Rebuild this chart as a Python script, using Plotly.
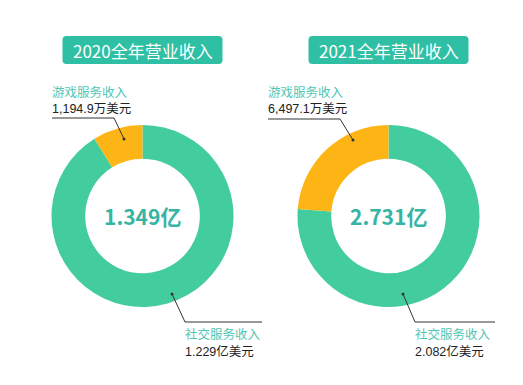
import plotly.graph_objects as go

# page window 523x385; the browser body has an 8px margin
OFF = 8
W, H = 523 - OFF, 385 - OFF

years = ["2020", "2021"]
categories = ["社交服务收入", "游戏服务收入"]
social_values = [1.229, 2.082]          # 亿美元
game_values = [0.11949, 0.64971]        # 亿美元 (1,194.9万 / 6,497.1万)
totals_text = ["1.349亿", "2.731亿"]
game_labels = ["1,194.9万美元", "6,497.1万美元"]
social_labels = ["1.229亿美元", "2.082亿美元"]
titles = ["2020全年营业收入", "2021全年营业收入"]

GREEN = "#43CC9D"
YELLOW = "#FDB516"
TEAL = "#2FBFA5"
CENTER_TXT = "#36B4A4"
LABEL_TXT = "#52C6B2"
FONT = "Noto Sans CJK SC"
LABEL_FONT = "Liberation Sans, Noto Sans CJK SC"


def px(x):
    return (x - OFF) / W


def py(y):
    return 1 - (y - OFF) / H


def rounded_rect(x0, y0, x1, y1, r):
    rx, ry = r / W, r / H
    X0, X1 = px(x0), px(x1)
    Y0, Y1 = py(y0), py(y1)
    return (f"M {X0+rx},{Y0} L {X1-rx},{Y0} Q {X1},{Y0} {X1},{Y0-ry} "
            f"L {X1},{Y1+ry} Q {X1},{Y1} {X1-rx},{Y1} L {X0+rx},{Y1} "
            f"Q {X0},{Y1} {X0},{Y1+ry} L {X0},{Y0-ry} Q {X0},{Y0} {X0+rx},{Y0} Z")


def text(x, y, s, size, color, xanchor="left", family=FONT):
    return dict(x=px(x), y=py(y), xref="paper", yref="paper", xanchor=xanchor,
                yanchor="middle", text=s, showarrow=False,
                font=dict(family=family, size=size, color=color))


centers = [142.5, 388.5]
cy, R = 216, 91

fig = go.Figure()
shapes = []
annotations = []

for i in range(2):
    cx = centers[i]
    fig.add_trace(go.Pie(
        labels=categories,
        values=[social_values[i], game_values[i]],
        hole=0.63,
        sort=False,
        direction="clockwise",
        rotation=0,
        marker=dict(colors=[GREEN, YELLOW], line=dict(width=0)),
        textinfo="none",
        hoverinfo="label+value",
        showlegend=False,
        domain=dict(x=[px(cx - R), px(cx + R)], y=[py(cy + R), py(cy - R)]),
    ))
    annotations.append(text(cx, cy, f"<b>{totals_text[i]}</b>", 21, CENTER_TXT, "center"))
    shapes.append(dict(type="path", xref="paper", yref="paper",
                       path=rounded_rect(cx - 80, 36, cx + 80, 64, 4),
                       fillcolor=TEAL, line=dict(width=0), layer="below"))
    annotations.append(text(cx, 50, titles[i], 17, "white", "center"))

# game labels (upper left of each ring)
game_lab = [(52, 114, 118, 124, 139), (268, 340, 119, 353, 140)]
for i, (x0, x1, yl, dx, dy) in enumerate(game_lab):
    annotations.append(text(x0 - 2, 92.5, categories[1], 12.5, LABEL_TXT, family=LABEL_FONT))
    annotations.append(text(x0 - 2, 108.5, game_labels[i], 12.5, "#222222", family=LABEL_FONT))
    shapes.append(dict(type="path", xref="paper", yref="paper",
                       path=f"M {px(x0)},{py(yl)} L {px(x1)},{py(yl)} L {px(dx)},{py(dy)}",
                       line=dict(color="#333333", width=1)))
    shapes.append(dict(type="circle", xref="paper", yref="paper",
                       x0=px(dx - 1.5), x1=px(dx + 1.5), y0=py(dy + 1.5), y1=py(dy - 1.5),
                       fillcolor="#333333", line=dict(width=0)))

# social labels (lower right of each ring)
soc_lab = [(172, 294, 185, 262), (403, 294, 415, 495)]
for i, (dx, dy, x0, x1) in enumerate(soc_lab):
    yl = 322
    shapes.append(dict(type="path", xref="paper", yref="paper",
                       path=f"M {px(dx)},{py(dy)} L {px(x0)},{py(yl)} L {px(x1)},{py(yl)}",
                       line=dict(color="#333333", width=1)))
    shapes.append(dict(type="circle", xref="paper", yref="paper",
                       x0=px(dx - 1.5), x1=px(dx + 1.5), y0=py(dy + 1.5), y1=py(dy - 1.5),
                       fillcolor="#333333", line=dict(width=0)))
    annotations.append(text(x0 - 2, 334, categories[0], 12.5, LABEL_TXT, family=LABEL_FONT))
    annotations.append(text(x0 - 2, 351, social_labels[i], 12.5, "#222222", family=LABEL_FONT))

fig.update_layout(
    width=W, height=H,
    margin=dict(l=0, r=0, t=0, b=0),
    paper_bgcolor="white", plot_bgcolor="white",
    shapes=shapes, annotations=annotations,
    font=dict(family=FONT),
)

fig.write_html("out.html")
